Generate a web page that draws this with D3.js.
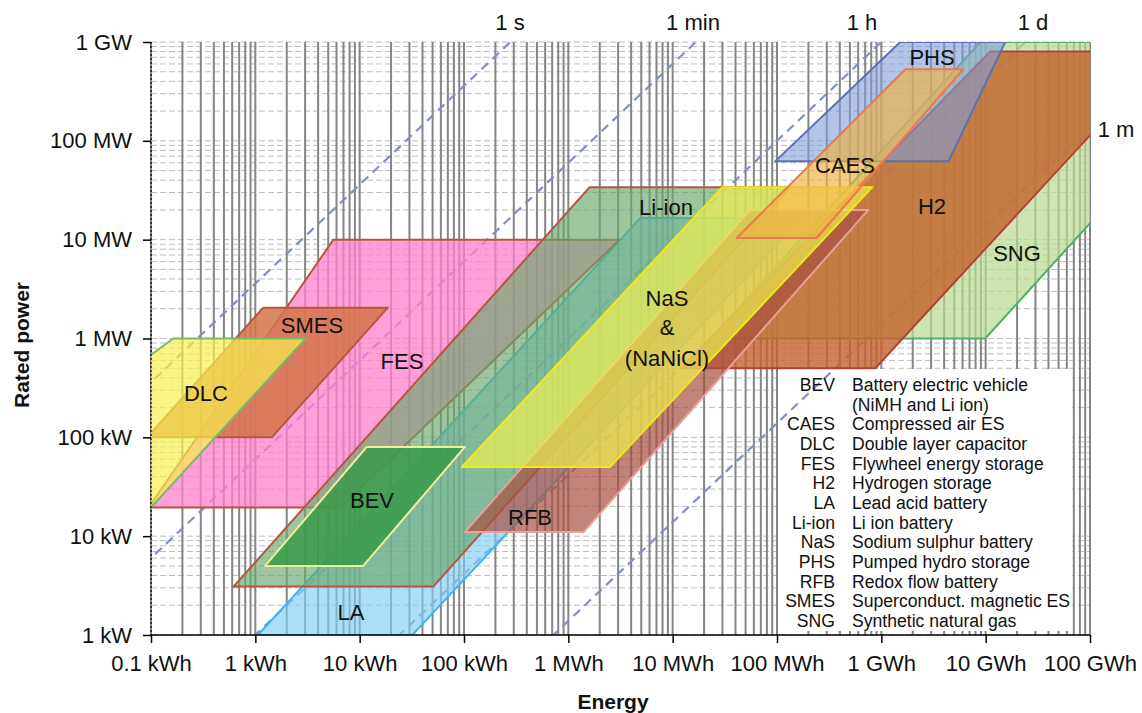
<!DOCTYPE html>
<html>
<head>
<meta charset="utf-8">
<script src="https://cdn.jsdelivr.net/npm/d3@7"></script>
<style>
  body { margin: 0; background: #fff; }
  text { font-family: Arial, "Liberation Sans", sans-serif; fill: #111; }
</style>
</head>
<body>
<svg id="chart" width="1142" height="713"></svg>
<script>
// energy in kWh, power in kW
var energyTicks = [0.1, 1, 10, 100, 1e3, 1e4, 1e5, 1e6, 1e7, 1e8];
var energyLabels = ["0.1 kWh", "1 kWh", "10 kWh", "100 kWh", "1 MWh", "10 MWh", "100 MWh", "1 GWh", "10 GWh", "100 GWh"];
var powerTicks = [1, 10, 100, 1e3, 1e4, 1e5, 1e6];
var powerLabels = ["1 kW", "10 kW", "100 kW", "1 MW", "10 MW", "100 MW", "1 GW"];

// discharge time lines (hours)
var durationNames = ["1 s", "1 min", "1 h", "1 d", "1 m"];
var durationHours = [1 / 3600, 1 / 60, 1, 24, 720];

// regions, drawn in this order; corners as [energy kWh, power kW]
var techNames = ["SNG", "H2", "LA", "FES", "SMES", "DLC", "Li-ion", "BEV", "RFB", "NaS", "PHS", "CAES"];
var techCorners = [
  [[2.3e4, 1000], [9.9e6, 1000], [3.8e9, 1e6], [8.9e6, 1e6]],
  [[1.2e4, 500], [8.75e5, 500], [5.5e8, 8e5], [1.1e7, 8e5]],
  [[1.06, 1], [32, 1], [1.7e5, 1.66e4], [4.9e3, 1.66e4]],
  [[0.095, 19.5], [6.5, 19.5], [3100, 1e4], [5.6, 1e4]],
  [[0.092, 100], [1.44, 100], [18.6, 2050], [1.19, 2050]],
  [[0.0004, 10], [0.056, 10], [3.04, 1000], [0.164, 1000]],
  [[0.62, 3.1], [51, 3.1], [1.34e5, 3.4e4], [1.6e3, 3.4e4]],
  [[1.24, 5], [10.8, 5], [102, 80], [11.7, 80]],
  [[102, 11], [1400, 11], [7.5e5, 2e4], [5.5e4, 2e4]],
  [[95, 50], [2500, 50], [8.2e5, 3.4e4], [3e4, 3.4e4]],
  [[9.6e4, 6.2e4], [4.4e6, 6.2e4], [1.54e7, 1e6], [1.52e6, 1e6]],
  [[4.1e4, 1.04e4], [2.4e5, 1.04e4], [6.1e6, 5.3e5], [1.7e6, 5.3e5]]
];

var legendCodes = ["BEV", "", "CAES", "DLC", "FES", "H2", "LA", "Li-ion", "NaS", "PHS", "RFB", "SMES", "SNG"];
var legendNames = ["Battery electric vehicle", "(NiMH and Li ion)", "Compressed air ES", "Double layer capacitor",
  "Flywheel energy storage", "Hydrogen storage", "Lead acid battery", "Li ion battery", "Sodium sulphur battery",
  "Pumped hydro storage", "Redox flow battery", "Superconduct. magnetic ES", "Synthetic natural gas"];

var styles = {
  "SNG":    { fill: "#b8dc90", op: 0.7,  stroke: "#50b068" },
  "H2":     { fill: "#c4622a", op: 0.8,  stroke: "#b5403a" },
  "LA":     { fill: "#80ccf4", op: 0.65, stroke: "#3cb8ec" },
  "FES":    { fill: "#ff80cc", op: 0.75, stroke: "#b5573f" },
  "SMES":   { fill: "#d47448", op: 0.85, stroke: "#b5573f" },
  "DLC":    { fill: "#f8f050", op: 0.7,  stroke: "#7cb86a" },
  "Li-ion": { fill: "#6aa86a", op: 0.65, stroke: "#b5573f" },
  "BEV":    { fill: "#3a9a4a", op: 0.85, stroke: "#eef09a" },
  "RFB":    { fill: "#a85040", op: 0.7,  stroke: "#e8a098" },
  "NaS":    { fill: "#f0f050", op: 0.7,  stroke: "#f0e81a" },
  "PHS":    { fill: "#7f9ed8", op: 0.6,  stroke: "#5a72b0" },
  "CAES":   { fill: "#f0b040", op: 0.65, stroke: "#f07850" }
};

// label anchors (pixel centres)
var labelPos = [
  ["SMES", 312, 325], ["DLC", 206, 393], ["FES", 402, 361], ["BEV", 372, 500], ["LA", 351, 612],
  ["RFB", 530, 517], ["Li-ion", 666, 207], ["NaS", 667, 298], ["&", 667, 327], ["(NaNiCl)", 667, 358],
  ["CAES", 845, 165], ["PHS", 932, 57], ["H2", 932, 206], ["SNG", 1017, 253]
];
var durationPos = [[510, 22], [693, 22], [862, 22], [1033, 22], [1116, 129]];

var svg = d3.select("#chart");
var pL = 151, pR = 1090, pT = 42, pB = 635;

var x = d3.scaleLog().domain([0.1, 1e8]).range([pL, pR]);
var y = d3.scaleLog().domain([1, 1e6]).range([pB, pT]);

svg.append("defs").append("clipPath").attr("id", "plot")
  .append("rect").attr("x", pL).attr("y", pT).attr("width", pR - pL).attr("height", pB - pT);

// grid
var xGrid = [], yGrid = [];
for (var d = -1; d < 8; d++) for (var k = 1; k < 10; k++) xGrid.push(k * Math.pow(10, d));
xGrid.push(1e8);
for (var d = 0; d < 6; d++) for (var k = 1; k < 10; k++) yGrid.push(k * Math.pow(10, d));
yGrid.push(1e6);

svg.append("g").selectAll("line").data(yGrid).join("line")
  .attr("x1", pL).attr("x2", pR)
  .attr("y1", function(d) { return y(d); }).attr("y2", function(d) { return y(d); })
  .attr("stroke", "#bdbdbd").attr("stroke-width", 1).attr("stroke-dasharray", "6,3");

svg.append("g").selectAll("line").data(xGrid).join("line")
  .attr("x1", function(d) { return x(d); }).attr("x2", function(d) { return x(d); })
  .attr("y1", pT).attr("y2", pB)
  .attr("stroke", "#858585").attr("stroke-width", 2);

// legend background hides the grid
svg.append("rect").attr("x", 779).attr("y", 369).attr("width", 293).attr("height", 262).attr("fill", "#fff");

// discharge time lines
var plot = svg.append("g").attr("clip-path", "url(#plot)");
plot.selectAll("line.dur").data(durationHours).join("line")
  .attr("class", "dur")
  .attr("x1", function(t) { return x(0.01 * t); }).attr("y1", y(0.01))
  .attr("x2", function(t) { return x(1e8 * t); }).attr("y2", y(1e8))
  .attr("stroke", "#8090c4").attr("stroke-width", 2.2).attr("stroke-dasharray", "9,6");

// storage regions
var line = d3.line().x(function(p) { return x(p[0]); }).y(function(p) { return y(p[1]); });
plot.selectAll("path.tech").data(techNames).join("path")
  .attr("class", "tech")
  .attr("d", function(n, i) { return line(techCorners[i]) + "Z"; })
  .attr("fill", function(n) { return styles[n].fill; })
  .attr("fill-opacity", function(n) { return styles[n].op; })
  .attr("stroke", function(n) { return styles[n].stroke; })
  .attr("stroke-width", 2).attr("stroke-linejoin", "round");

// axes
var yAxis = d3.axisLeft(y).tickValues(powerTicks)
  .tickFormat(function(d, i) { return powerLabels[i]; }).tickSize(8).tickPadding(11);
var gy = svg.append("g").attr("transform", "translate(" + pL + ",0)").call(yAxis);
gy.select(".domain").remove();
gy.selectAll("line").attr("stroke", "#000").attr("stroke-width", 1.5);
gy.selectAll("text").style("font-size", "22px").attr("fill", "#111");
svg.append("line").attr("x1", pL).attr("x2", pL).attr("y1", pT).attr("y2", pB)
  .attr("stroke", "#000").attr("stroke-width", 1.2).attr("stroke-dasharray", "2,2");

var xAxis = d3.axisBottom(x).tickValues(energyTicks)
  .tickFormat(function(d, i) { return energyLabels[i]; }).tickSize(8).tickPadding(12);
var gx = svg.append("g").attr("transform", "translate(0," + pB + ")").call(xAxis);
gx.select(".domain").attr("stroke", "#000").attr("stroke-width", 1.5).attr("d", "M" + pL + ",0H" + pR);
gx.selectAll("line").attr("stroke", "#000").attr("stroke-width", 1.5);
gx.selectAll("text").style("font-size", "22px").attr("fill", "#111");

svg.append("text").attr("transform", "translate(29,345) rotate(-90)")
  .attr("text-anchor", "middle").style("font-size", "21px").style("font-weight", "bold").text("Rated power");
svg.append("text").attr("x", 613).attr("y", 709)
  .attr("text-anchor", "middle").style("font-size", "21px").style("font-weight", "bold").text("Energy");

// duration labels
svg.selectAll("text.dur").data(durationNames).join("text")
  .attr("class", "dur").attr("text-anchor", "middle")
  .attr("x", function(n, i) { return durationPos[i][0]; })
  .attr("y", function(n, i) { return durationPos[i][1] + 8; })
  .style("font-size", "22px").text(function(n) { return n; });

// region labels
svg.selectAll("text.lab").data(labelPos).join("text")
  .attr("class", "lab").attr("text-anchor", "middle")
  .attr("x", function(p) { return p[1]; }).attr("y", function(p) { return p[2] + 8; })
  .style("font-size", "22px").text(function(p) { return p[0]; });

// legend
var leg = svg.append("g");
leg.selectAll("text.code").data(legendCodes).join("text")
  .attr("class", "code").attr("text-anchor", "end")
  .attr("x", 835).attr("y", function(c, i) { return 391 + i * 19.65; })
  .style("font-size", "17.6px").text(function(c) { return c; });
leg.selectAll("text.name").data(legendNames).join("text")
  .attr("class", "name")
  .attr("x", 852).attr("y", function(c, i) { return 391 + i * 19.65; })
  .style("font-size", "17.6px").text(function(c) { return c; });
</script>
</body>
</html>
